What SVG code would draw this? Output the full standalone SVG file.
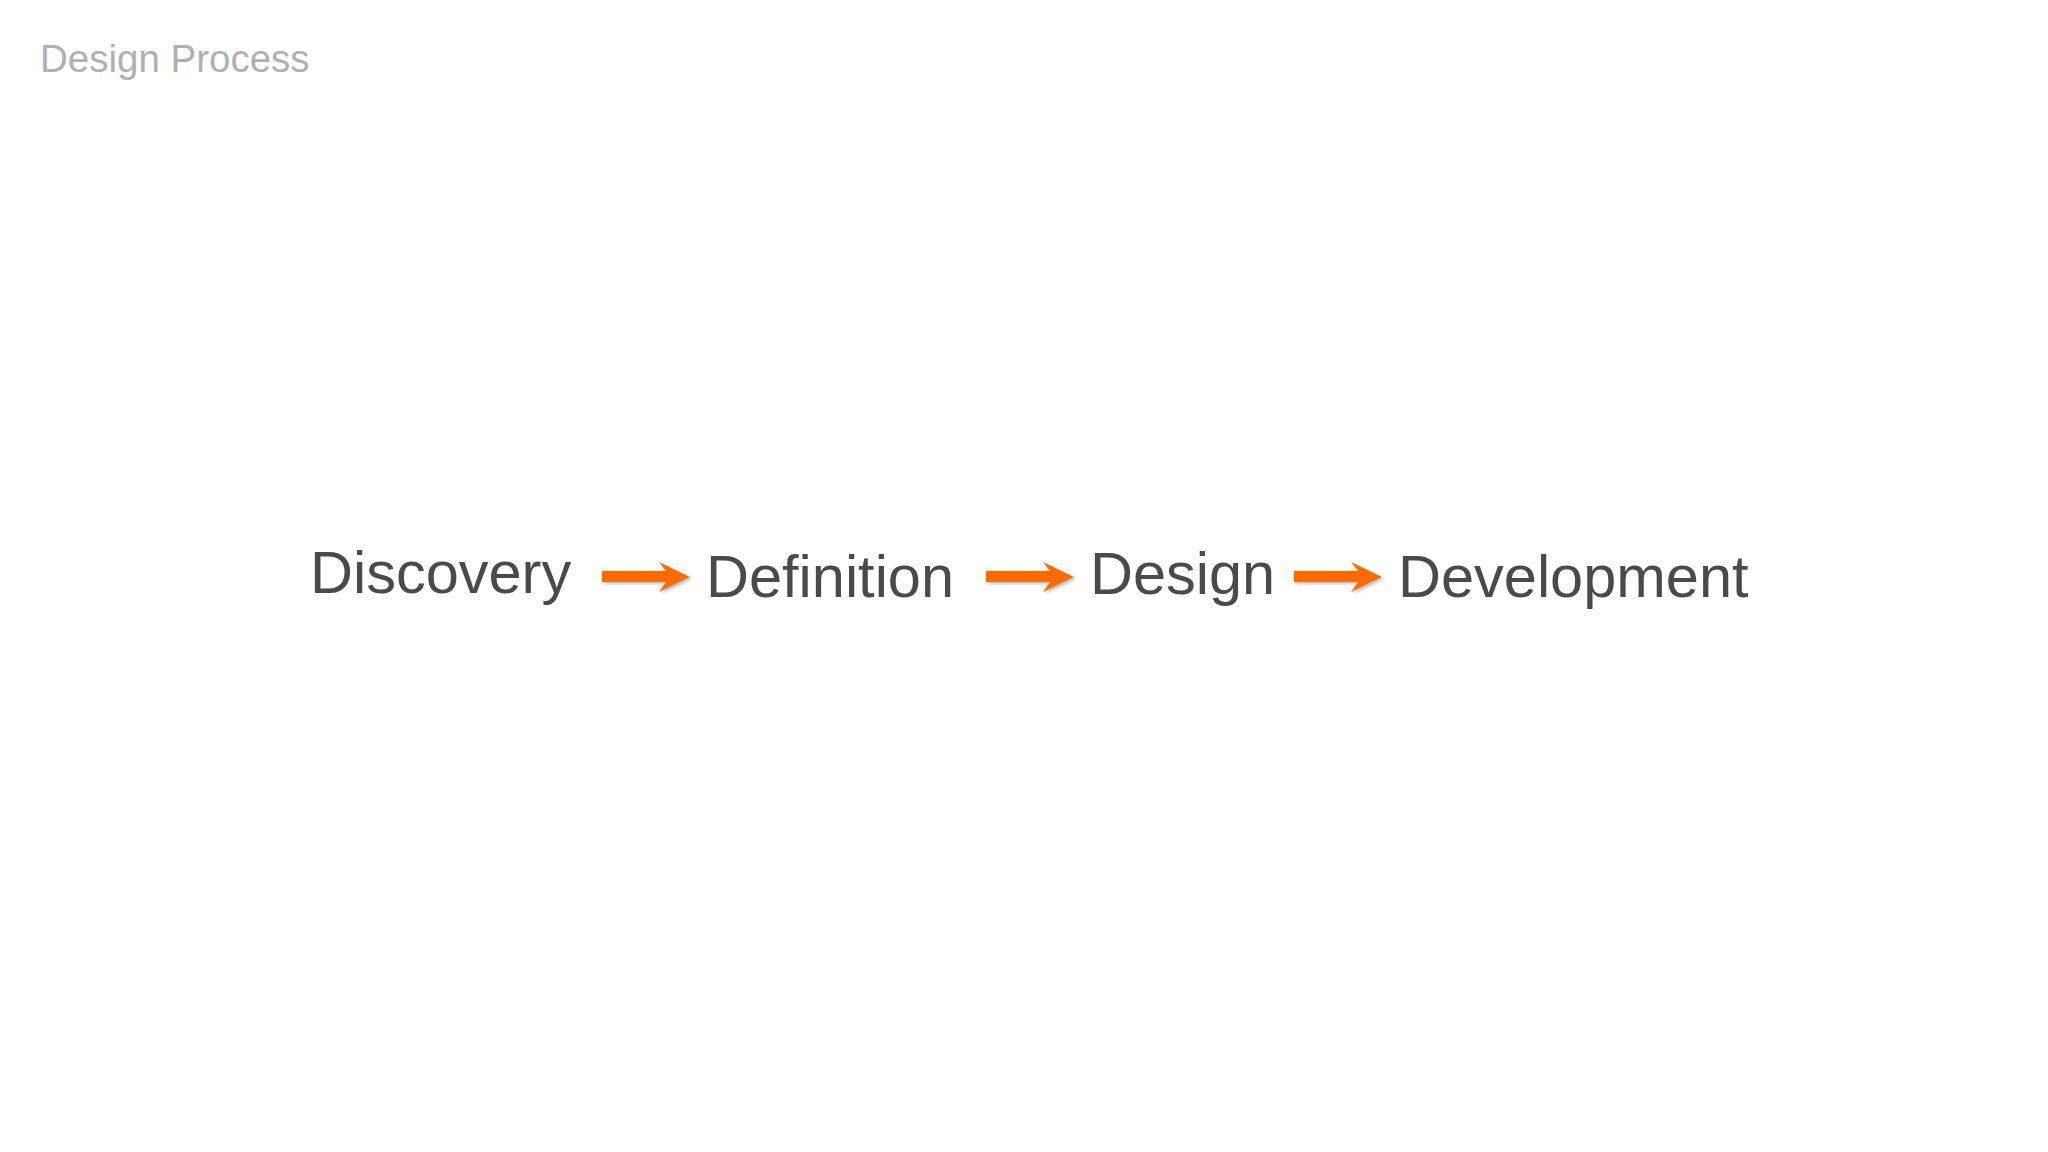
<svg xmlns="http://www.w3.org/2000/svg" xmlns:xlink="http://www.w3.org/1999/xlink" width="2048" height="1152" viewBox="0 0 2048 1152">
<style>
  .title { font-family: "Liberation Sans", Arial, sans-serif; font-size: 38.5px; fill: #b0b0b0; }
  .step { font-family: "Liberation Sans", Arial, sans-serif; font-size: 59.5px; fill: #4a4a4a; }
  .arrow { fill: #ff6a00; filter: url(#shadow); }
</style>
<defs>
  <filter id="shadow" x="-20%" y="-50%" width="140%" height="200%">
    <feDropShadow dx="2" dy="2" stdDeviation="1.5" flood-color="#000" flood-opacity="0.25"/>
  </filter>
  <path id="arr" d="M0,571 L64,571 L57,562 L88,577 L57,592 L64,582 L0,582 Z"/>
</defs>
<rect width="2048" height="1152" fill="#ffffff"/>
<text class="title" x="40" y="72">Design Process</text>
<g id="connectors">
  <use xlink:href="#arr" class="arrow" x="602" y="0"/>
  <use xlink:href="#arr" class="arrow" x="986" y="0"/>
  <use xlink:href="#arr" class="arrow" x="1294" y="0"/>
</g>
<g id="discovery"><text class="step" x="310" y="593">Discovery</text></g>
<g id="definition"><text class="step" x="706" y="597">Definition</text></g>
<g id="design"><text class="step" x="1090" y="594">Design</text></g>
<g id="development"><text class="step" x="1398" y="597">Development</text></g>
</svg>
